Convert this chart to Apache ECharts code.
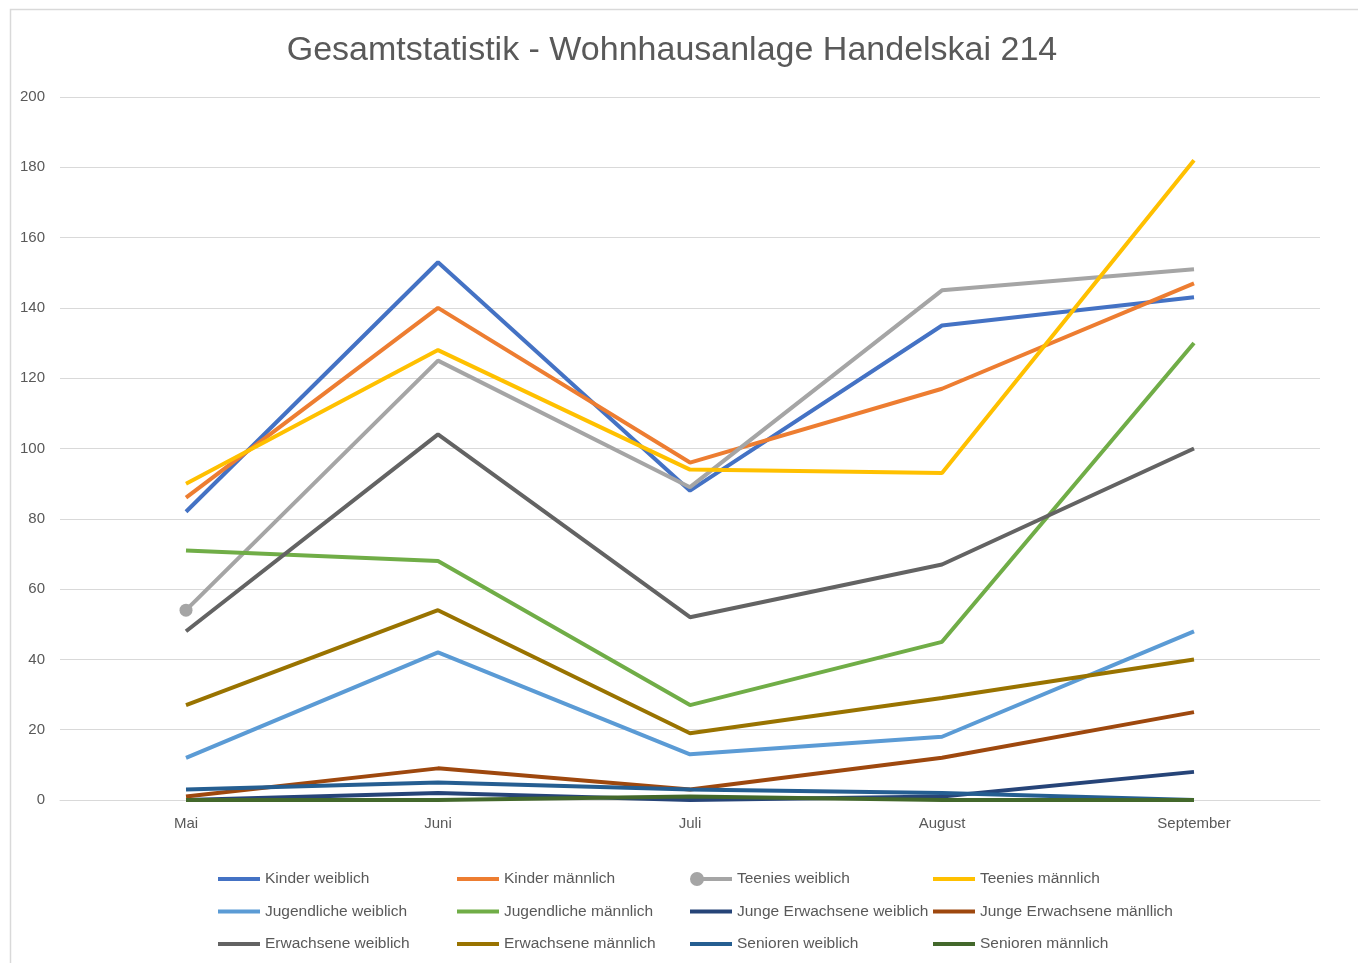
<!DOCTYPE html>
<html>
<head>
<meta charset="utf-8">
<script src="https://cdn.jsdelivr.net/npm/echarts@6/dist/echarts.min.js"></script>
<style>
  html, body { margin: 0; padding: 0; background: #fff; }
  #chart { width: 1358px; height: 963px; }
</style>
</head>
<body>
<div id="chart"></div>
<script>
// Monate
var months = ['Mai', 'Juni', 'Juli', 'August', 'September'];

// Werte je Gruppe
var kinderWeiblich = [82, 153, 88, 135, 143];
var kinderMaennlich = [86, 140, 96, 117, 147];
var teeniesWeiblich = [54, 125, 89, 145, 151];
var teeniesMaennlich = [90, 128, 94, 93, 182];
var jugendlicheWeiblich = [12, 42, 13, 18, 48];
var jugendlicheMaennlich = [71, 68, 27, 45, 130];
var jungeErwWeiblich = [0, 2, 0, 1, 8];
var jungeErwMaennlich = [1, 9, 3, 12, 25];
var erwachseneWeiblich = [48, 104, 52, 67, 100];
var erwachseneMaennlich = [27, 54, 19, 29, 40];
var seniorenWeiblich = [3, 5, 3, 2, 0];
var seniorenMaennlich = [0, 0, 1, 0, 0];

var yTicks = [0, 20, 40, 60, 80, 100, 120, 140, 160, 180, 200];

var seriesDefs = [
    {name: 'Kinder weiblich', data: kinderWeiblich, color: '#4472C4'},
    {name: 'Kinder männlich', data: kinderMaennlich, color: '#ED7D31'},
    {name: 'Teenies weiblich', data: teeniesWeiblich, color: '#A5A5A5', marker: 0},
    {name: 'Teenies männlich', data: teeniesMaennlich, color: '#FFC000'},
    {name: 'Jugendliche weiblich', data: jugendlicheWeiblich, color: '#5B9BD5'},
    {name: 'Jugendliche männlich', data: jugendlicheMaennlich, color: '#70AD47'},
    {name: 'Junge Erwachsene weiblich', data: jungeErwWeiblich, color: '#264478'},
    {name: 'Junge Erwachsene mänllich', data: jungeErwMaennlich, color: '#9E480E'},
    {name: 'Erwachsene weiblich', data: erwachseneWeiblich, color: '#636363'},
    {name: 'Erwachsene männlich', data: erwachseneMaennlich, color: '#997300'},
    {name: 'Senioren weiblich', data: seniorenWeiblich, color: '#255E91'},
    {name: 'Senioren männlich', data: seniorenMaennlich, color: '#43682B'}
];

var lineIcon = 'path://M0,0 L42,0 L42,4 L0,4 Z';
var dotIcon = 'path://M0,7 A7,7 0 1,1 14,7 A7,7 0 1,1 0,7 Z M12,5 L42,5 L42,9 L12,9 Z';

var series = seriesDefs.map(function (s) {
    var d = s.data.map(function (v, i) {
        if (s.marker === i) {
            return {value: v, symbol: 'circle', symbolSize: 13, itemStyle: {color: s.color}};
        }
        return {value: v, symbol: 'none'};
    });
    return {
        name: s.name,
        type: 'line',
        data: d,
        symbol: 'none',
        showSymbol: true,
        lineStyle: {width: 4, color: s.color},
        itemStyle: {color: s.color},
        emphasis: {disabled: true},
        animation: false
    };
});

// Legende in vier Spalten
var colLeft = [213, 452, 685, 928];
var legends = colLeft.map(function (left, c) {
    var names = [];
    for (var r = 0; r < 3; r++) {
        var s = seriesDefs[r * 4 + c];
        names.push({name: s.name, icon: s.marker === 0 ? dotIcon : lineIcon});
    }
    return {
        orient: 'vertical',
        left: left,
        top: 866,
        itemWidth: 42,
        itemHeight: 14,
        itemGap: 16.5,
        itemTextGap: 0,
        selectedMode: false,
        data: names,
        textStyle: {fontFamily: 'Liberation Sans', fontSize: 15.5, color: '#595959'}
    };
});

var chart = echarts.init(document.getElementById('chart'));
chart.setOption({
    backgroundColor: '#fff',
    animation: false,
    title: {
        text: 'Gesamtstatistik - Wohnhausanlage Handelskai 214',
        left: 667,
        textAlign: 'center',
        top: 29,
        textStyle: {fontFamily: 'Liberation Sans', fontSize: 34, fontWeight: 'normal', color: '#595959'}
    },
    graphic: [{
        type: 'rect',
        shape: {x: 10.5, y: 9.5, width: 1500, height: 1100},
        style: {fill: null, stroke: '#D9D9D9', lineWidth: 1.5},
        silent: true
    }],
    legend: legends,
    grid: {left: 60, right: 38, top: 97, bottom: 163},
    xAxis: {
        type: 'category',
        data: months,
        boundaryGap: true,
        axisLine: {lineStyle: {color: '#D9D9D9', width: 1}},
        axisTick: {show: false},
        axisLabel: {fontFamily: 'Liberation Sans', fontSize: 15, color: '#595959', margin: 16}
    },
    yAxis: {
        type: 'value',
        min: yTicks[0],
        max: yTicks[yTicks.length - 1],
        interval: yTicks[1] - yTicks[0],
        axisLine: {show: false},
        axisTick: {show: false},
        splitLine: {lineStyle: {color: '#D9D9D9', width: 1}},
        axisLabel: {fontFamily: 'Liberation Sans', fontSize: 15, color: '#595959', margin: 15}
    },
    series: series
});
</script>
</body>
</html>
